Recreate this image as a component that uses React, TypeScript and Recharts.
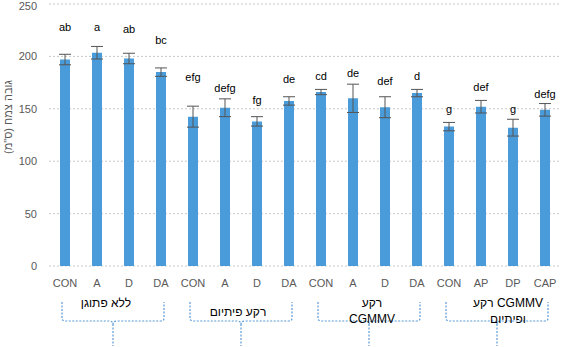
import React from 'react';
import { ComposedChart, Bar, Line, XAxis, YAxis, CartesianGrid, ErrorBar, LabelList } from 'recharts';

if (typeof document !== 'undefined') document.body.style.margin = '0';

const categories = ['CON', 'A', 'D', 'DA', 'CON', 'A', 'D', 'DA', 'CON', 'A', 'D', 'DA', 'CON', 'AP', 'DP', 'CAP'];
const heights = [197, 203.5, 198, 185, 142.5, 151, 138, 157.5, 166, 160, 151.5, 165, 133, 152, 132, 149];
const errors = [5, 6, 5, 4, 10, 8.5, 4.5, 4, 2.5, 13.5, 10, 3.5, 4, 6, 8, 6];
const letters = ['ab', 'a', 'ab', 'bc', 'efg', 'defg', 'fg', 'de', 'cd', 'de', 'def', 'd', 'g', 'def', 'g', 'defg'];
const letterHeights = [228, 228, 226, 216, 180, 170, 158, 178, 181, 184, 176, 181, 150, 171, 150, 164];
const groupLabels: string[][] = [['ללא פתוגן'], ['רקע פיתיום'], ['רקע', 'CGMMV'], ['רקע CGMMV', 'ופיתיום']];
const yTicks = [0, 50, 100, 150, 200, 250];
const yLabel = 'גובה צמח (ס"מ)\u200F';

// layout
const W = 561;
const H = 347;
const Y_AXIS_W = 49;
const X_AXIS_H = 81;
const TOP = 4;
const BAND = (W - Y_AXIS_W) / categories.length;
const GROUP_SIZE = 4;
const labelDx = [-7, -3, 3, 11];
const labelDy = [0, 9, 0, 0];

const data = categories.map((c, i) => ({
  id: i,
  cat: c,
  value: heights[i],
  err: errors[i],
  letter: letters[i],
  letterY: letterHeights[i],
}));

const BLUE = '#4a9bd9';
const BRACE = '#5b9bd5';
const FONT = 'Liberation Sans, Arial, sans-serif';

const Tick = (props: any) => {
  const { x, y, payload } = props;
  const i = payload.index ?? payload.value;
  const els: React.ReactNode[] = [];
  els.push(
    <text key="t" x={x} y={y + 17} dy="0.35em" textAnchor="middle" fill="#595959" fontSize={11} fontFamily={FONT}>
      {categories[i]}
    </text>
  );
  if (i % GROUP_SIZE === 0) {
    const g = i / GROUP_SIZE;
    const L = x - 3;
    const R = x + (GROUP_SIZE - 1) * BAND + 3;
    const C = x + ((GROUP_SIZE - 1) * BAND) / 2;
    const top = y + 36;
    const hy = y + 55;
    const bottom = y + 80;
    const d = `M ${L} ${top} L ${L} ${hy - 3} Q ${L} ${hy} ${L + 3} ${hy} L ${C - 4} ${hy} Q ${C} ${hy} ${C} ${hy + 4} L ${C} ${bottom} M ${C} ${hy + 4} Q ${C} ${hy} ${C + 4} ${hy} L ${R - 3} ${hy} Q ${R} ${hy} ${R} ${hy - 3} L ${R} ${top}`;
    els.push(<path key="b" d={d} fill="none" stroke={BRACE} strokeWidth={1.2} strokeDasharray="2 1.5" />);
    const lines = groupLabels[g];
    lines.forEach((ln, k) => {
      els.push(
        <text
          key={'g' + k}
          x={C + labelDx[g]}
          y={y + 37 + labelDy[g] + k * 16}
          dy="0.35em"
          textAnchor="middle"
          fill="#000"
          fontSize={12}
          fontFamily={FONT}
        >
          {ln}
        </text>
      );
    });
  }
  return <g>{els}</g>;
};

const YLabel = (props: any) => {
  const vb = props.viewBox || { x: 0, y: TOP, width: Y_AXIS_W, height: H - X_AXIS_H - TOP };
  const cx = vb.x + 8;
  const cy = vb.y + vb.height / 2 - 18;
  return (
    <text x={cx} y={cy} transform={`rotate(-90 ${cx} ${cy})`} textAnchor="middle" dy="0.35em" fill="#595959" fontSize={11} fontFamily={FONT}>
      {yLabel}
    </text>
  );
};

export default function App() {
  return (
    <ComposedChart width={W} height={H} data={data} margin={{ top: TOP, right: 0, left: 0, bottom: 0 }} barCategoryGap={0}>
      <CartesianGrid vertical={false} stroke="#c8c8c8" strokeDasharray="2 2" />
      <XAxis
        dataKey="id"
        type="category"
        interval={0}
        height={X_AXIS_H}
        axisLine={false}
        tickLine={false}
        tickSize={0}
        tickMargin={0}
        tick={Tick}
      />
      <YAxis
        width={Y_AXIS_W}
        domain={[0, 250]}
        ticks={yTicks}
        axisLine={false}
        tickLine={false}
        tickMargin={6}
        tick={{ fill: '#595959', fontSize: 11, fontFamily: FONT }}
        label={<YLabel />}
      />
      <Bar dataKey="value" fill={BLUE} barSize={10} isAnimationActive={false}>
        <ErrorBar dataKey="err" width={6} stroke="#555" strokeWidth={1} direction="y" />
      </Bar>
      <Line dataKey="letterY" stroke="none" dot={false} activeDot={false} legendType="none" isAnimationActive={false}>
        <LabelList dataKey="letter" position="center" fill="#000" fontSize={11} fontFamily={FONT} />
      </Line>
    </ComposedChart>
  );
}
